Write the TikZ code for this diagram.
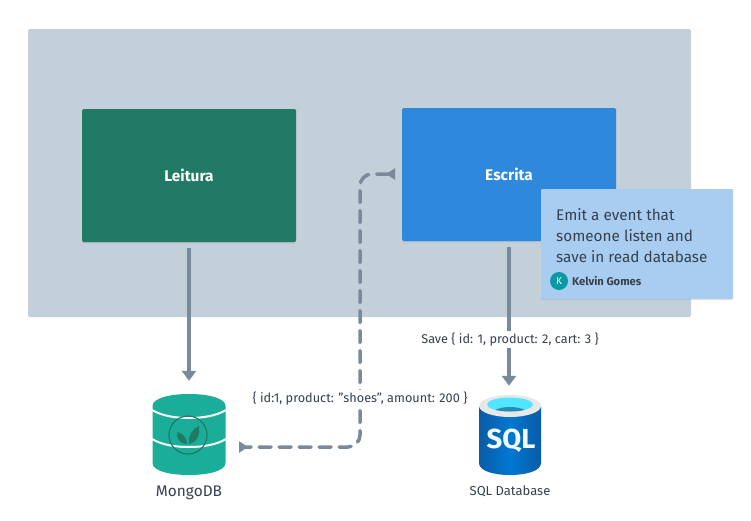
\documentclass[tikz,border=0pt]{standalone}
\usepackage{fontspec}
\setmainfont{Fira Sans}
\usetikzlibrary{arrows.meta,shadows}
\definecolor{panelgray}{HTML}{C3CFD9}
\definecolor{readgreen}{HTML}{207A66}
\definecolor{writeblue}{HTML}{2E88DC}
\definecolor{notefill}{HTML}{A9CDF0}
\definecolor{linegray}{HTML}{7B8A9A}
\definecolor{inkgray}{HTML}{36404E}
\definecolor{mongoteal}{HTML}{1AAE9A}
\definecolor{avatarteal}{HTML}{0A9AA6}
\definecolor{sqlblue}{HTML}{0078D4}
\definecolor{sqldark}{HTML}{0A5BA6}
\definecolor{sqlcyan}{HTML}{50E6FF}
\definecolor{sqlrim}{HTML}{E8E8E8}
\definecolor{sqlwell}{HTML}{2A8BB0}
\tikzset{
	boxnode/.style={rounded corners=1.5pt,minimum width=214pt,minimum height=133pt,text=white,font=\fontsize{15.4}{17}\selectfont\bfseries,drop shadow={opacity=.2,shadow xshift=0pt,shadow yshift=-1pt}},
	datalabel/.style={fill=white,inner sep=2pt,text=inkgray,font=\fontsize{12.7}{14}\selectfont},
	solidlink/.style={line width=3.5pt,draw=linegray,shorten <=6pt,-{Triangle[length=10pt,width=14pt]}},
	dashlink/.style={line width=3.5pt,draw=linegray,line cap=round,dash pattern=on 12pt off 8pt,rounded corners=12pt,{Triangle[reversed,length=9pt,width=11pt]}-{Triangle[reversed,length=9pt,width=11pt]}},
}
\begin{document}
\begin{tikzpicture}[x=1pt,y=-1pt]
	\useasboundingbox (0,0) rectangle (751,520);
	\fill[panelgray,rounded corners=2pt] (28,29) rectangle (691,317);
	\node[boxnode,fill=readgreen] (leitura) at (189,175.5) {Leitura};
	\node[boxnode,fill=writeblue] (escrita) at (509,174.5) {Escrita};
	% database nodes are only place holders, the icons go on top
	\node[minimum width=100pt,minimum height=108pt,inner sep=0pt] (mongo) at (189,435) {};
	\node[minimum width=62pt,minimum height=110pt,inner sep=0pt] (sql) at (509,441) {};
	\coordinate (mongoport) at (239,447);
	\coordinate (escritaport) at (395,174);
	\coordinate (bendtop) at (360,174);
	\coordinate (bendbottom) at (360,447);
	\draw[solidlink] (leitura.south) -- (mongo.north);
	\draw[solidlink] (escrita.south) -- (sql.north);
	\draw[dashlink] (escritaport) -- (bendtop) -- (bendbottom) -- (mongoport);
	\node[datalabel] (savelabel) at (510,339.5) {Save \{ id: 1, product: 2, cart: 3 \}};
	\node[datalabel] (readlabel) at (360,398.5) {\{ id:1, product: "shoes", amount: 200 \}};
	% mongo icon
	\fill[mongoteal] (152.5,406) .. controls (152.5,398) and (170,394) .. (189,394) .. controls (208,394) and (225.5,398) .. (225.5,406)
		-- (225.5,463) .. controls (225.5,471) and (208,475) .. (189,475) .. controls (170,475) and (152.5,471) .. (152.5,463) -- cycle;
	\draw[white,line width=2pt] (152,410) .. controls (162,416) and (176,418) .. (189,418) .. controls (202,418) and (216,416) .. (226,410);
	\draw[white,line width=2pt] (152,439) .. controls (162,445) and (176,447) .. (189,447) .. controls (202,447) and (216,445) .. (226,439);
	\draw[readgreen,line width=1.2pt] (188,435) circle (19);
	\fill[readgreen] (187,444) .. controls (178,443) and (176,437) .. (177.5,432) .. controls (182,433) and (187,437) .. (187,444) -- cycle;
	\fill[readgreen] (189,444) .. controls (188,436) and (192,429) .. (199,426) .. controls (200,434) and (198,442) .. (189,444) -- cycle;
	\node[text=inkgray,font=\fontsize{15.4}{17}\selectfont,inner sep=0pt] (mongoname) at (189,493) {MongoDB};
	% sql icon
	\shade[left color=sqldark,right color=sqldark,middle color=sqlblue] (479,406) -- (541,406) -- (541,463)
		.. controls (541,471) and (526,475) .. (510,475) .. controls (494,475) and (479,471) .. (479,463) -- cycle;
	\fill[sqlrim] (510,406) ellipse (31 and 11);
	\fill[sqlcyan] (510,404.5) ellipse (23 and 7);
	\begin{scope}
		\clip (510,404.5) ellipse (23 and 7);
		\fill[sqlwell] (510,414) ellipse (18 and 7);
	\end{scope}
	\node[text=white!95!cyan,font=\fontsize{27.5}{30}\selectfont\bfseries,inner sep=0pt] (sqlname) at (511,441) {SQL};
	\node[text=inkgray,font=\fontsize{13}{14}\selectfont,inner sep=0pt] (sqlcaption) at (510,491) {SQL Database};
	% note
	\node[fill=notefill,rounded corners=1pt,minimum width=192pt,minimum height=110pt,drop shadow={opacity=.2,shadow xshift=0pt,shadow yshift=-1pt}] (note) at (637,244) {};
	\node[anchor=north west,inner sep=0pt,align=left,text=inkgray,font=\fontsize{15.3}{21}\selectfont] (notetext) at (556,208) {Emit a event that\\someone listen and\\save in read database};
	\node[circle,fill=avatarteal,minimum size=18pt,inner sep=0pt,text=white,font=\fontsize{10}{10}\selectfont] (avatar) at (559,281) {K};
	\node[anchor=west,inner sep=0pt,text=inkgray,font=\fontsize{11.2}{12}\selectfont\bfseries] (author) at (572,281) {Kelvin Gomes};
\end{tikzpicture}
\end{document}
